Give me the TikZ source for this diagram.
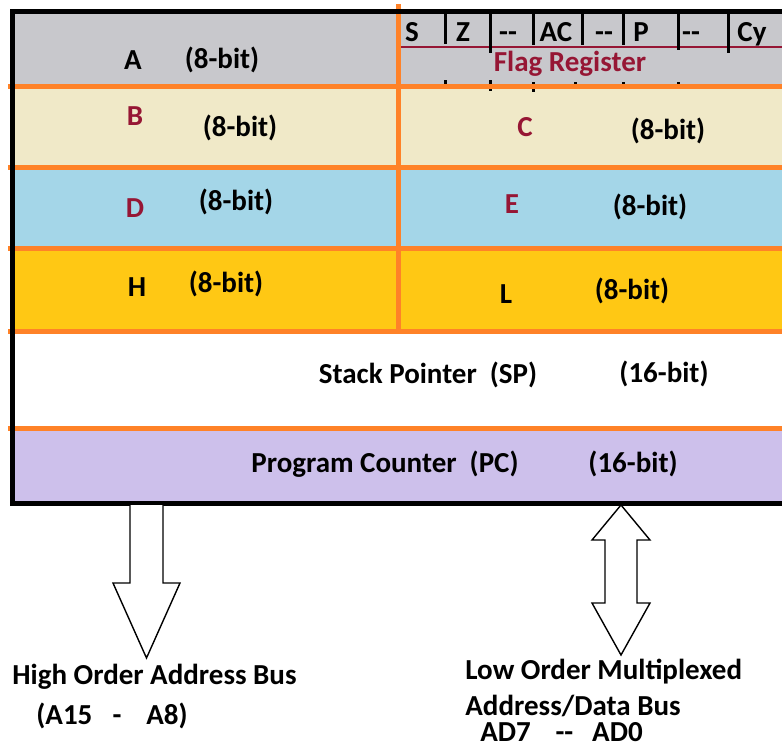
\documentclass[tikz,border=0pt]{standalone}
\usepackage{fontspec}
\setmainfont{Carlito}
\definecolor{regA}{RGB}{200,200,204}
\definecolor{regB}{RGB}{240,233,200}
\definecolor{regD}{RGB}{164,214,232}
\definecolor{regH}{RGB}{255,200,20}
\definecolor{regPC}{RGB}{205,192,235}
\definecolor{regline}{RGB}{255,130,40}
\definecolor{regred}{RGB}{150,22,52}

\begin{document}
\begin{tikzpicture}[x=0.5pt,y=-0.5pt,
  lbl/.style={inner sep=0pt, font=\bfseries\fontsize{14.5}{16}\selectfont},
  rname/.style={lbl, text=regred},
  sep/.style={draw=regline, line width=2.5pt},
  frame/.style={draw=black, line width=2.5pt},
  flagtick/.style={draw=black, line width=1.5pt},
  busarrow/.style={draw=black, fill=white, line width=0.7pt, line join=miter}]
\useasboundingbox (0,0) rectangle (782,746);

% register rows
\fill[regA] (12,11) rectangle (782,86);
\fill[regB] (12,86) rectangle (782,167);
\fill[regD] (12,167) rectangle (782,248);
\fill[regH] (12,248) rectangle (782,330);
\fill[white] (12,330) rectangle (782,428);
\fill[regPC] (12,428) rectangle (782,503);

% flag register
\draw[regred, line width=0.75pt] (400,47) -- (782,47);
\foreach \tx/\ty in {445/44,490/53,533/45,582/45,623/45,678/50,728/53}
  \draw[flagtick] (\tx,11) -- (\tx,\ty);
\foreach \tx/\ta/\tb in {445/80/86,490/80/91,533/82/92,575/82/86,623/82/85,678/82/85,728/84/87}
  \draw[flagtick] (\tx,\ta) -- (\tx,\tb);
\foreach \fx/\ft [count=\i] in {412/S,463/Z,508/{-}{-},556/AC,604/{-}{-},641/P,691/{-}{-},752/Cy}
  \node[lbl, anchor=base] (flag\i) at (\fx,41) {\ft};
\node[rname] (flagname) at (570,64) {Flag Register};

% separators and frame
\foreach \sy in {86,167,248,331,428}
  \draw[sep] (8,\sy) -- (782,\sy);
\draw[sep] (398,4) -- (398,331);
\draw[frame] (782,11) -- (12.5,11) -- (12.5,503) -- (782,503);

% register names
\node[lbl] (regA) at (133,60) {A};
\node[lbl] (bitA) at (222,60) {(8-bit)};
\node[rname] (regB) at (135,116) {B};
\node[lbl] (bitB) at (240,128) {(8-bit)};
\node[rname] (regC) at (525,127) {C};
\node[lbl] (bitC) at (668,131) {(8-bit)};
\node[rname] (regD) at (135,208) {D};
\node[lbl] (bitD) at (236,202) {(8-bit)};
\node[rname] (regE) at (512,204) {E};
\node[lbl] (bitE) at (650,207) {(8-bit)};
\node[lbl] (regH) at (137,287) {H};
\node[lbl] (bitH) at (226,284) {(8-bit)};
\node[lbl] (regL) at (506,294) {L};
\node[lbl] (bitL) at (632,291) {(8-bit)};
\node[lbl] (regSP) at (428,375) {Stack Pointer\ \ (SP)};
\node[lbl] (bitSP) at (664,374) {(16-bit)};
\node[lbl] (regPC) at (385,464) {Program Counter\ \ (PC)};
\node[lbl] (bitPC) at (633,464) {(16-bit)};

% buses
\coordinate (hiTop) at (146.5,505);
\coordinate (hiTip) at (146.5,658);
\draw[busarrow] (hiTop) ++(-16.5,0) -- ++(0,78) -- ++(-17,0) -- (hiTip)
  -- ++(33.5,-75) -- ++(-17,0) -- ++(0,-78);
\coordinate (loTop) at (621,505);
\coordinate (loBot) at (621,655);
\draw[busarrow] (loTop) -- ++(29,35) -- ++(-13,0) -- ++(0,63) -- ++(13,0) -- (loBot)
  -- ++(-29,-52) -- ++(13,0) -- ++(0,-63) -- ++(-13,0) -- cycle;

\node[lbl, anchor=west] (hiBus) at (12,677) {High Order Address Bus};
\node[lbl, anchor=west] (hiPins) at (36,716) {(A15\hspace{0.7em}-\hspace{0.85em}A8)};
\node[lbl, anchor=west] (loBus) at (465,672) {Low Order Multiplexed};
\node[lbl, anchor=west] (loBus2) at (465,706) {Address/Data Bus};
\node[lbl, anchor=west] (loPins) at (480,732) {AD7\hspace{0.85em}{-}{-}\hspace{0.65em}AD0};
\end{tikzpicture}
\end{document}
